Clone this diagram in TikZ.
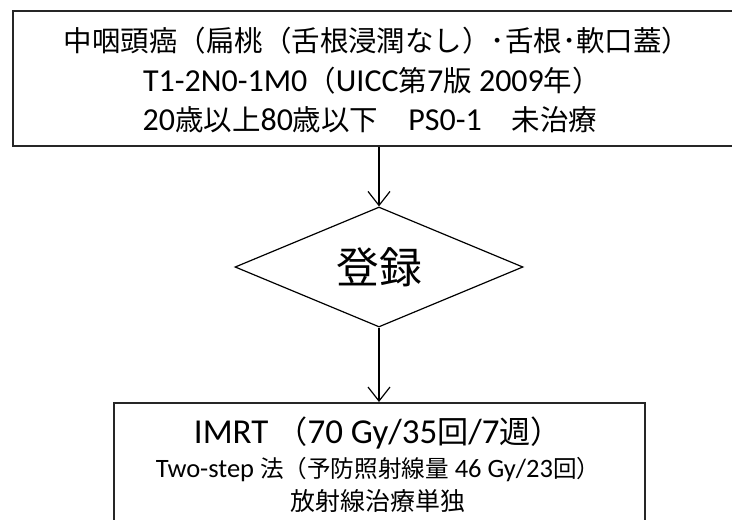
\documentclass[tikz,border=0pt]{standalone}
\usepackage{fontspec}
\setmainfont{Carlito}
\newfontfamily\jp[Scale=0.89]{Noto Sans CJK JP}
\newcommand\J[1]{{\jp #1}}
\usetikzlibrary{shapes.geometric,arrows.meta}
\begin{document}
\begin{tikzpicture}[x=1pt,y=-1pt,
  box/.style={draw=black!85, line width=1.8pt, anchor=north west, inner sep=0pt},
  dia/.style={draw, diamond, line width=1.2pt, minimum width=288pt, minimum height=120pt, inner sep=0pt},
  arr/.style={line width=1.2pt, -{Straight Barb[length=14pt,width=22pt,line width=1.2pt]}},
  txt/.style={inner sep=0pt, anchor=base}]
\useasboundingbox (0,0) rectangle (732,520);
\node[box, minimum width=730pt, minimum height=135pt] (top) at (12,10) {};
\node[txt, font=\fontsize{32}{34}\selectfont] (t1) at (377,51) {\J{中咽頭癌（扁桃（舌根浸潤なし）･舌根･軟口蓋）}};
\node[txt, font=\fontsize{32}{34}\selectfont] (t2) at (372,91) {T1-2N0-1M0\J{（}UICC\J{第}7\J{版} 2009\J{年）}};
\node[txt, font=\fontsize{32}{34}\selectfont] (t3) at (370,130) {20\J{歳以上}80\J{歳以下}\hspace{30pt}PS0-1\hspace{30pt}\J{未治療}};
\node[dia] (reg) at (379,267) {};
\node[inner sep=0pt, font=\fontsize{48}{50}\selectfont\jp] (regt) at (379,267) {登録};
\node[box, minimum width=531pt, minimum height=140pt] (bot) at (113,402) {};
\node[txt, font=\fontsize{35}{36}\selectfont] (b1) at (378,443) {IMRT \J{（}70 Gy/35\J{回}/7\J{週）}};
\node[txt, font=\fontsize{26.5}{30}\selectfont] (b2) at (378,477) {Two-step \J{法（予防照射線量} 46 Gy/23\J{回）}};
\node[txt, font=\fontsize{28}{30}\selectfont] (b3) at (378,510) {\J{放射線治療単独}};
\draw[arr] (top.south -| reg.north) -- (reg.north);
\draw[arr] (reg.south) -- (bot.north -| reg.south);
\end{tikzpicture}
\end{document}
